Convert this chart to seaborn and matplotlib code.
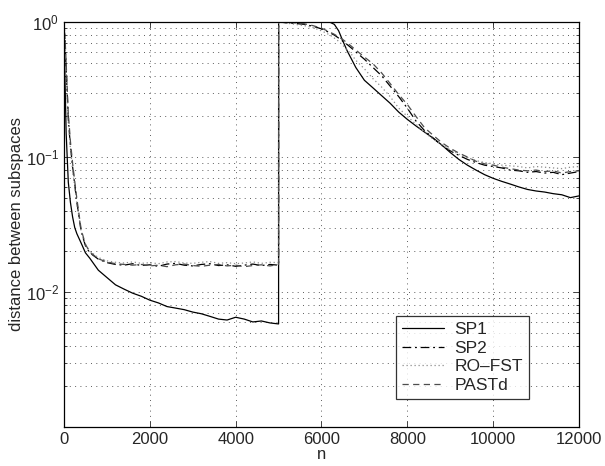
import pandas as pd
import numpy as np
import seaborn as sns
import matplotlib.pyplot as plt
import matplotlib as mpl

# sample index n (jump back to 1 at n = 5000)
n_left = [0, 25, 50, 100, 150, 200, 250, 300, 400, 500, 600, 800,
          1000, 1200, 1400, 1600, 1800, 2000, 2200, 2400, 2600, 2800, 3000,
          3200, 3400, 3600, 3800, 4000, 4200, 4400, 4600, 4800, 5000]
n_right = [5001, 5200, 5400, 5600, 5800, 6000, 6100, 6200, 6300, 6400, 6500,
           6600, 6700, 6800, 7000, 7200, 7400, 7600, 7800, 8000, 8200, 8400,
           8600, 8800, 9000, 9200, 9400, 9600, 9800, 10000, 10200, 10400,
           10600, 10800, 11000, 11200, 11400, 11600, 11800, 12000]

sp1 = [1.0, 0.35, 0.15, 0.065, 0.046, 0.036, 0.030, 0.027, 0.023, 0.0195, 0.0178, 0.0145,
       0.0128, 0.0113, 0.0105, 0.0098, 0.0093, 0.0087, 0.0083, 0.0078, 0.0076, 0.0074, 0.0071,
       0.0069, 0.0066, 0.0063, 0.0062, 0.0065, 0.0063, 0.0060, 0.0061, 0.0059, 0.0058,
       1.0, 1.0, 1.0, 1.0, 1.0, 1.0, 1.0, 0.995, 0.96, 0.86, 0.72,
       0.61, 0.53, 0.46, 0.37, 0.325, 0.285, 0.25, 0.215, 0.19, 0.17, 0.153,
       0.138, 0.123, 0.108, 0.096, 0.087, 0.080, 0.074, 0.0695, 0.066, 0.063,
       0.060, 0.0575, 0.056, 0.055, 0.0535, 0.0525, 0.050, 0.0515]
sp2 = [1.0, 0.72, 0.45, 0.19, 0.12, 0.085, 0.062, 0.046, 0.028, 0.022, 0.0195, 0.0175,
       0.0165, 0.0160, 0.0158, 0.0162, 0.0157, 0.0159, 0.0155, 0.0161, 0.0163, 0.0158, 0.0156,
       0.0160, 0.0162, 0.0157, 0.0159, 0.0155, 0.0158, 0.0161, 0.0157, 0.0160, 0.0158,
       1.0, 0.985, 0.975, 0.96, 0.93, 0.89, 0.86, 0.83, 0.80, 0.76, 0.72,
       0.68, 0.64, 0.60, 0.53, 0.46, 0.40, 0.335, 0.28, 0.23, 0.185, 0.157,
       0.138, 0.122, 0.111, 0.103, 0.096, 0.091, 0.087, 0.085, 0.083, 0.080,
       0.079, 0.077, 0.078, 0.076, 0.077, 0.074, 0.076, 0.078]
ro_fst = [1.0, 0.70, 0.42, 0.18, 0.115, 0.080, 0.060, 0.045, 0.028, 0.0225, 0.020, 0.018,
          0.0170, 0.0166, 0.0164, 0.0167, 0.0163, 0.0165, 0.0162, 0.0167, 0.0168, 0.0164, 0.0163,
          0.0166, 0.0168, 0.0163, 0.0165, 0.0162, 0.0164, 0.0167, 0.0163, 0.0166, 0.0165,
          1.0, 0.98, 0.96, 0.94, 0.91, 0.86, 0.83, 0.80, 0.76, 0.72, 0.67,
          0.62, 0.575, 0.52, 0.45, 0.38, 0.33, 0.28, 0.23, 0.20, 0.175, 0.152,
          0.136, 0.123, 0.113, 0.105, 0.099, 0.094, 0.091, 0.089, 0.087, 0.086,
          0.085, 0.083, 0.085, 0.084, 0.083, 0.082, 0.084, 0.085]
pastd = [1.0, 0.75, 0.50, 0.21, 0.13, 0.090, 0.066, 0.049, 0.029, 0.0225, 0.0198, 0.0176,
         0.0167, 0.0162, 0.0160, 0.0158, 0.0160, 0.0156, 0.0158, 0.0154, 0.0159, 0.0161, 0.0157,
         0.0155, 0.0158, 0.0160, 0.0156, 0.0158, 0.0154, 0.0157, 0.0159, 0.0156, 0.0160,
         1.0, 0.99, 0.985, 0.97, 0.94, 0.90, 0.87, 0.84, 0.81, 0.775, 0.74,
         0.70, 0.66, 0.62, 0.55, 0.49, 0.42, 0.35, 0.29, 0.245, 0.20, 0.165,
         0.145, 0.128, 0.116, 0.107, 0.100, 0.093, 0.089, 0.087, 0.084, 0.082,
         0.080, 0.079, 0.080, 0.078, 0.079, 0.076, 0.078, 0.079]

methods = ['SP1', 'SP2', 'RO\u2013FST', 'PASTd']
n_all = n_left + n_right
df = pd.concat([pd.DataFrame({'n': n_all, 'd': vals, 'method': m})
                for m, vals in zip(methods, [sp1, sp2, ro_fst, pastd])])

sns.set_style('ticks')
plt.rcParams['font.family'] = ['Liberation Sans', 'DejaVu Sans']
plt.rcParams['mathtext.fontset'] = 'custom'
plt.rcParams['mathtext.rm'] = 'Liberation Sans'
plt.rcParams['mathtext.it'] = 'Liberation Sans:italic'

palette = {'SP1': 'black', 'SP2': 'black', 'RO\u2013FST': '0.55', 'PASTd': '0.3'}
dashes = {'SP1': '', 'SP2': (7, 3, 1.5, 3), 'RO\u2013FST': (1, 2.2), 'PASTd': (5, 3.5)}

fig = plt.figure(figsize=(6.05, 4.66), dpi=100)
ax = fig.add_axes([0.1058, 0.0837, 0.8512, 0.8691])
sns.lineplot(data=df, x='n', y='d', hue='method', style='method', palette=palette,
             dashes=dashes, estimator=None, sort=False, lw=0.9, ax=ax)

ax.set_yscale('log')
ax.set_xlim(0, 12000)
ax.set_ylim(1e-3, 1)
ax.set_xticks(np.arange(0, 12001, 2000))
ax.set_yticks([1e-2, 1e-1, 1])
ax.yaxis.set_minor_locator(mpl.ticker.LogLocator(base=10, subs=np.arange(2, 10)))
ax.yaxis.set_minor_formatter(mpl.ticker.NullFormatter())
ax.tick_params(which='both', direction='in', top=True, right=True, labelsize=12, width=0.6)
ax.tick_params(which='major', length=4)
ax.tick_params(which='minor', length=2.5)
ax.grid(which='major', color='0.4', ls=(0, (1, 4.3)), lw=0.72)
ax.grid(which='minor', axis='y', color='0.4', ls=(0, (1, 4.3)), lw=0.72)
for s in ax.spines.values():
    s.set_linewidth(0.9)
    s.set_color('black')

ax.set_xlabel('n', fontsize=12, labelpad=0)
ax.set_ylabel('distance between subspaces', fontsize=12, labelpad=1)

h, l = ax.get_legend_handles_labels()
leg = ax.legend(h, l, loc='lower left', bbox_to_anchor=(0.645, 0.069), borderaxespad=0,
                fontsize=12.5, frameon=True, fancybox=False, edgecolor='black',
                handlelength=2.4, handletextpad=0.6, labelspacing=0.2, borderpad=0.35)
leg.get_frame().set_linewidth(0.9)

fig.savefig('out.png', dpi=100)
